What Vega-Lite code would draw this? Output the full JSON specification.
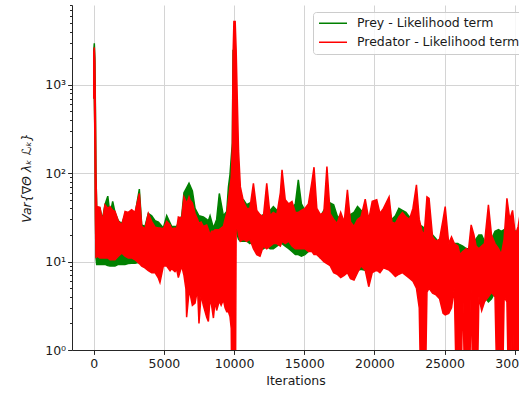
{
  "$schema": "https://vega.github.io/schema/vega-lite/v6.json",
  "width": 447,
  "height": 345,
  "autosize": {"type": "none"},
  "padding": {"left": 72, "top": 5, "right": 0, "bottom": 43},
  "config": {
    "view": {"stroke": null},
    "font": "DejaVu Sans",
    "axis": {
      "labelFont": "DejaVu Sans", "labelFontSize": 12.5, "labelColor": "#1a1a1a",
      "titleFont": "DejaVu Sans", "titleFontSize": 12.5, "titleFontWeight": "normal", "titleColor": "#1a1a1a",
      "domainColor": "#262626", "domainWidth": 1, "tickColor": "#262626", "tickWidth": 1, "tickSize": 4.4,
      "gridColor": "#d4d4d4", "gridWidth": 1, "labelFlush": false, "labelOverlap": false
    }
  },
  "datasets": {
    "prey": [
      {"it":0,"lo":700,"hi":2400},{"it":40,"lo":800,"hi":2950},{"it":80,"lo":300,"hi":2000},{"it":120,"lo":40,"hi":500},{"it":160,"lo":11,"hi":96},
      {"it":210,"lo":9.3,"hi":40},{"it":445,"lo":9.3,"hi":40},{"it":620,"lo":9.3,"hi":30},{"it":800,"lo":9.3,"hi":44},{"it":1000,"lo":9.0,"hi":55},
      {"it":1160,"lo":8.9,"hi":34},{"it":1350,"lo":8.9,"hi":48},{"it":1515,"lo":8.9,"hi":36},{"it":1750,"lo":9.3,"hi":29},{"it":2000,"lo":9.3,"hi":27},
      {"it":2230,"lo":9.3,"hi":34},{"it":2460,"lo":9.5,"hi":34},{"it":2700,"lo":9.6,"hi":36},{"it":2940,"lo":9.6,"hi":34},{"it":3250,"lo":9.8,"hi":66},
      {"it":3420,"lo":9.8,"hi":26},{"it":3650,"lo":9.8,"hi":25},{"it":3890,"lo":9.8,"hi":35},{"it":4130,"lo":9.6,"hi":33},{"it":4370,"lo":9.6,"hi":29},
      {"it":4610,"lo":9.5,"hi":28},{"it":4960,"lo":9.5,"hi":24},{"it":5200,"lo":9.3,"hi":33},{"it":5550,"lo":9.3,"hi":25},{"it":5910,"lo":9.3,"hi":25},
      {"it":6270,"lo":9.3,"hi":33},{"it":6430,"lo":9.3,"hi":60},{"it":6570,"lo":9.5,"hi":66},{"it":6790,"lo":9.8,"hi":77},{"it":7030,"lo":10,"hi":63},
      {"it":7220,"lo":10.2,"hi":40},{"it":7500,"lo":10.5,"hi":33},{"it":7810,"lo":10.6,"hi":32},{"it":8050,"lo":10.6,"hi":30},{"it":8170,"lo":10.6,"hi":29},
      {"it":8290,"lo":10.6,"hi":33},{"it":8530,"lo":10.5,"hi":24},{"it":8760,"lo":10.5,"hi":30},{"it":8950,"lo":10.5,"hi":59},{"it":9240,"lo":10,"hi":33},
      {"it":9480,"lo":9.5,"hi":37},{"it":9600,"lo":9,"hi":70},{"it":9710,"lo":9,"hi":96},{"it":9800,"lo":9,"hi":150},{"it":9880,"lo":12,"hi":220},
      {"it":9930,"lo":15,"hi":2500},{"it":9990,"lo":20,"hi":400},
      {"it":10080,"lo":25,"hi":200},{"it":10150,"lo":22,"hi":150},{"it":10230,"lo":20,"hi":100},{"it":10320,"lo":18,"hi":60},{"it":10450,"lo":17,"hi":50},
      {"it":10670,"lo":17,"hi":50},{"it":10900,"lo":17,"hi":44},{"it":11130,"lo":16,"hi":46},{"it":11380,"lo":17,"hi":40},{"it":11620,"lo":16,"hi":37},
      {"it":11850,"lo":15,"hi":32},{"it":12090,"lo":14,"hi":34},{"it":12330,"lo":15,"hi":36},{"it":12570,"lo":14,"hi":38},{"it":12800,"lo":14,"hi":42},
      {"it":13050,"lo":15,"hi":38},{"it":13300,"lo":16,"hi":40},{"it":13420,"lo":16,"hi":40},{"it":13650,"lo":15,"hi":32},{"it":13900,"lo":14,"hi":30},
      {"it":14130,"lo":13,"hi":40},{"it":14370,"lo":12,"hi":45},{"it":14580,"lo":12,"hi":84},{"it":14800,"lo":11.5,"hi":45},{"it":15050,"lo":12,"hi":38},
      {"it":15300,"lo":13,"hi":42},{"it":15550,"lo":14,"hi":38},{"it":15700,"lo":13,"hi":36},{"it":15900,"lo":13,"hi":30},{"it":16150,"lo":11,"hi":32},
      {"it":16400,"lo":10.5,"hi":38},{"it":16620,"lo":10.5,"hi":42},{"it":16850,"lo":10,"hi":46},{"it":17100,"lo":9,"hi":44},{"it":17350,"lo":8,"hi":33},
      {"it":17600,"lo":7.5,"hi":30},{"it":17850,"lo":7.5,"hi":28},{"it":18080,"lo":8,"hi":30},{"it":18300,"lo":7.5,"hi":34},{"it":18550,"lo":7.2,"hi":36},
      {"it":18800,"lo":8,"hi":42},{"it":19050,"lo":8.2,"hi":38},{"it":19350,"lo":8,"hi":36},{"it":19600,"lo":7.8,"hi":30},{"it":19850,"lo":8.5,"hi":32},
      {"it":20170,"lo":8.5,"hi":34},{"it":20400,"lo":8.5,"hi":30},{"it":20650,"lo":8.8,"hi":36},{"it":21050,"lo":8.5,"hi":38},{"it":21250,"lo":8,"hi":30},
      {"it":21500,"lo":7.5,"hi":33},{"it":21750,"lo":8,"hi":40},{"it":22000,"lo":8.5,"hi":38},{"it":22250,"lo":7.5,"hi":36},{"it":22500,"lo":7.2,"hi":32},
      {"it":22750,"lo":7,"hi":30},{"it":23000,"lo":6.5,"hi":28},{"it":23200,"lo":6,"hi":26},{"it":23400,"lo":5.8,"hi":25},{"it":23550,"lo":5.5,"hi":24},
      {"it":23750,"lo":5.4,"hi":22},{"it":23900,"lo":5.6,"hi":22},{"it":24150,"lo":5.4,"hi":20},{"it":24400,"lo":5,"hi":18},{"it":24650,"lo":4.2,"hi":15},
      {"it":24900,"lo":3.8,"hi":14},{"it":25050,"lo":3.8,"hi":14},{"it":25300,"lo":4.2,"hi":15},{"it":25500,"lo":5,"hi":16},{"it":25700,"lo":5.8,"hi":16},
      {"it":25950,"lo":6.2,"hi":16},{"it":26100,"lo":6.2,"hi":15.5},{"it":26300,"lo":6.4,"hi":15},{"it":26550,"lo":6.5,"hi":14},{"it":26700,"lo":6.2,"hi":14},
      {"it":26900,"lo":6,"hi":15},{"it":27100,"lo":5.5,"hi":17},{"it":27250,"lo":5,"hi":18},{"it":27450,"lo":4.8,"hi":20},{"it":27650,"lo":4.5,"hi":20},
      {"it":27850,"lo":4.0,"hi":17},{"it":28130,"lo":3.5,"hi":16},{"it":28350,"lo":3.8,"hi":18},{"it":28600,"lo":4.5,"hi":22},{"it":28850,"lo":5,"hi":23},
      {"it":29050,"lo":5.5,"hi":22},{"it":29250,"lo":5.8,"hi":23},{"it":29450,"lo":6,"hi":24},{"it":29650,"lo":6.2,"hi":25},{"it":29850,"lo":6,"hi":24},
      {"it":30050,"lo":6,"hi":22},{"it":30250,"lo":6,"hi":20},{"it":30450,"lo":6,"hi":20}
    ],
    "pred": [
      {"it":0,"lo":700,"hi":2300},{"it":40,"lo":800,"hi":2650},{"it":80,"lo":250,"hi":1800},{"it":120,"lo":30,"hi":400},{"it":160,"lo":11,"hi":90},
      {"it":210,"lo":11.6,"hi":42},{"it":445,"lo":11,"hi":41},{"it":620,"lo":11,"hi":28.6},{"it":800,"lo":11,"hi":44},{"it":1000,"lo":11,"hi":40},
      {"it":1160,"lo":10.5,"hi":42},{"it":1350,"lo":10.5,"hi":38},{"it":1515,"lo":10.5,"hi":37},{"it":1750,"lo":11.5,"hi":28.6},{"it":2000,"lo":12.5,"hi":26},
      {"it":2230,"lo":11.5,"hi":37},{"it":2460,"lo":11,"hi":36},{"it":2700,"lo":11,"hi":38.7},{"it":2940,"lo":10.5,"hi":36},{"it":3250,"lo":9.5,"hi":59},
      {"it":3420,"lo":8.9,"hi":25},{"it":3650,"lo":8.5,"hi":23.5},{"it":3890,"lo":7.9,"hi":35},{"it":4130,"lo":7.5,"hi":28.6},{"it":4370,"lo":7.5,"hi":24.5},
      {"it":4610,"lo":6.5,"hi":24},{"it":4720,"lo":5.8,"hi":24},{"it":4960,"lo":8.9,"hi":23.5},{"it":5200,"lo":8.9,"hi":28.6},{"it":5440,"lo":7.9,"hi":26},
      {"it":5550,"lo":8.3,"hi":23.5},{"it":5790,"lo":7.7,"hi":24},{"it":5910,"lo":8.2,"hi":23.5},{"it":6030,"lo":6.6,"hi":32},{"it":6270,"lo":8.9,"hi":31},
      {"it":6430,"lo":7,"hi":54},{"it":6570,"lo":4.9,"hi":48},{"it":6620,"lo":2.35,"hi":45},{"it":6790,"lo":4.5,"hi":54},{"it":6860,"lo":4.4,"hi":50},
      {"it":7030,"lo":3.2,"hi":46},{"it":7220,"lo":3.4,"hi":35},{"it":7400,"lo":4.9,"hi":30},{"it":7500,"lo":2.0,"hi":27},{"it":7650,"lo":4.2,"hi":28},
      {"it":7810,"lo":3.2,"hi":25},{"it":8050,"lo":2.35,"hi":26},{"it":8170,"lo":2.1,"hi":23},{"it":8290,"lo":3.8,"hi":20},{"it":8400,"lo":3.2,"hi":22},
      {"it":8530,"lo":2.3,"hi":22},{"it":8650,"lo":3.6,"hi":23},{"it":8760,"lo":2.8,"hi":23},{"it":8950,"lo":3.6,"hi":23},{"it":9080,"lo":3.2,"hi":24},
      {"it":9240,"lo":3.7,"hi":25},{"it":9360,"lo":3.0,"hi":30},{"it":9480,"lo":2.7,"hi":35},{"it":9600,"lo":2.7,"hi":50},{"it":9710,"lo":2.4,"hi":70},
      {"it":9800,"lo":1.75,"hi":90},{"it":9880,"lo":0.05,"hi":200},{"it":9930,"lo":0.05,"hi":2200},{"it":9990,"lo":0.05,"hi":5200},
      {"it":10080,"lo":0.05,"hi":5200},{"it":10150,"lo":25,"hi":2500},{"it":10230,"lo":25,"hi":700},{"it":10320,"lo":20,"hi":180},{"it":10450,"lo":17,"hi":70},
      {"it":10670,"lo":18,"hi":48},{"it":10900,"lo":17,"hi":40},{"it":11130,"lo":18,"hi":40},{"it":11380,"lo":14,"hi":77},{"it":11620,"lo":12,"hi":38},
      {"it":11850,"lo":11.5,"hi":34},{"it":12090,"lo":15,"hi":32},{"it":12330,"lo":14,"hi":77},{"it":12570,"lo":15,"hi":33},{"it":12800,"lo":16,"hi":36},
      {"it":13050,"lo":16,"hi":34},{"it":13300,"lo":15,"hi":60},{"it":13420,"lo":17,"hi":109},{"it":13650,"lo":16,"hi":50},{"it":13900,"lo":17,"hi":45},
      {"it":14130,"lo":15,"hi":48},{"it":14370,"lo":14,"hi":36},{"it":14580,"lo":14,"hi":36},{"it":14800,"lo":14,"hi":38},{"it":15050,"lo":14,"hi":40},
      {"it":15300,"lo":13,"hi":45},{"it":15550,"lo":13,"hi":80},{"it":15700,"lo":12,"hi":117},{"it":15900,"lo":12,"hi":40},{"it":16150,"lo":11,"hi":34},
      {"it":16400,"lo":10,"hi":36},{"it":16620,"lo":9.5,"hi":119},{"it":16850,"lo":9,"hi":35},{"it":17100,"lo":7.5,"hi":30},{"it":17350,"lo":7.2,"hi":27},
      {"it":17600,"lo":6.6,"hi":36},{"it":17850,"lo":7,"hi":28},{"it":18080,"lo":7.5,"hi":65},{"it":18300,"lo":6.4,"hi":28},{"it":18550,"lo":6.2,"hi":25},
      {"it":18800,"lo":7.5,"hi":30},{"it":19050,"lo":9,"hi":32},{"it":19350,"lo":8,"hi":51},{"it":19600,"lo":5.2,"hi":30},{"it":19850,"lo":7.5,"hi":48},
      {"it":20170,"lo":8,"hi":50},{"it":20400,"lo":7.5,"hi":35},{"it":20650,"lo":8.5,"hi":40},{"it":21050,"lo":8,"hi":54},{"it":21250,"lo":7.5,"hi":28},
      {"it":21500,"lo":6.8,"hi":27},{"it":21750,"lo":7.2,"hi":32},{"it":22000,"lo":7.5,"hi":36},{"it":22250,"lo":7,"hi":32},{"it":22500,"lo":6.5,"hi":30},
      {"it":22750,"lo":6,"hi":40},{"it":23000,"lo":5,"hi":74},{"it":23200,"lo":3,"hi":30},{"it":23400,"lo":0.05,"hi":22},{"it":23550,"lo":0.05,"hi":20},
      {"it":23750,"lo":4.5,"hi":54},{"it":23900,"lo":5,"hi":52},{"it":24150,"lo":4.4,"hi":19},{"it":24400,"lo":4.2,"hi":17},{"it":24650,"lo":3.8,"hi":18},
      {"it":24900,"lo":2.6,"hi":30},{"it":25050,"lo":2.5,"hi":42},{"it":25300,"lo":2.6,"hi":16},{"it":25500,"lo":3,"hi":19},{"it":25700,"lo":5,"hi":16},
      {"it":25950,"lo":0.05,"hi":15},{"it":26100,"lo":0.05,"hi":12},{"it":26300,"lo":5,"hi":13},{"it":26550,"lo":0.05,"hi":14},{"it":26700,"lo":0.05,"hi":13},
      {"it":26900,"lo":5,"hi":26},{"it":27100,"lo":0.05,"hi":20},{"it":27250,"lo":0.05,"hi":15},{"it":27450,"lo":4,"hi":14},{"it":27650,"lo":2.8,"hi":15},
      {"it":27850,"lo":3.5,"hi":16},{"it":28130,"lo":4,"hi":44},{"it":28350,"lo":4.5,"hi":20},{"it":28600,"lo":4,"hi":16},{"it":28850,"lo":0.05,"hi":14},
      {"it":29050,"lo":0.05,"hi":12},{"it":29250,"lo":4,"hi":18},{"it":29450,"lo":3.5,"hi":52},{"it":29650,"lo":0.05,"hi":30},{"it":29850,"lo":3,"hi":38},
      {"it":30050,"lo":0.05,"hi":20},{"it":30250,"lo":0.05,"hi":25},{"it":30450,"lo":3,"hi":40}
    ]
  },
  "encoding": {
    "x": {
      "field": "it", "type": "quantitative",
      "scale": {"domain": [-1550, 30310], "nice": false, "zero": false},
      "axis": {"title": "Iterations", "values": [0, 5000, 10000, 15000, 20000, 25000, 30000], "format": "d", "grid": true, "labelPadding": 3, "titlePadding": 5}
    },
    "y": {
      "field": "lo", "type": "quantitative",
      "scale": {"type": "log", "domain": [1, 8000], "nice": false},
      "axis": {
        "title": "Var{∇Θ λₖ ℒₖ}", "titleFontStyle": "italic", "titlePadding": 11, "labelPadding": 2,
        "values": [1,2,3,4,5,6,7,8,9,10,20,30,40,50,60,70,80,90,100,200,300,400,500,600,700,800,900,1000,2000,3000,4000,5000,6000,7000,8000],
        "labelExpr": "datum.value == 1 ? '10⁰' : datum.value == 10 ? '10¹' : datum.value == 100 ? '10²' : datum.value == 1000 ? '10³' : ''",
        "grid": true,
        "gridOpacity": {"condition": {"test": "indexof([1,10,100,1000], datum.value) >= 0", "value": 1}, "value": 0},
        "tickSize": {"condition": {"test": "indexof([1,10,100,1000], datum.value) >= 0", "value": 4.4}, "value": 2.5}
      }
    }
  },
  "layer": [
    {
      "data": {"name": "prey"},
      "mark": {"type": "area", "fill": "#008000", "strokeWidth": 1.5, "clip": true, "opacity": 1},
      "encoding": {
        "y2": {"field": "hi"},
        "stroke": {
          "datum": "Prey - Likelihood term", "type": "nominal",
          "scale": {"domain": ["Prey - Likelihood term", "Predator - Likelihood term"], "range": ["#008000", "#ff0000"]},
          "legend": {"orient": "none", "legendX": 241, "legendY": 7, "title": null, "symbolType": "stroke", "symbolSize": 784, "symbolStrokeWidth": 1.5, "labelFontSize": 12.5, "labelFont": "DejaVu Sans", "labelColor": "#1a1a1a", "labelOffset": 9, "rowPadding": 6, "padding": 5, "strokeColor": "#cccccc", "fillColor": "rgba(255,255,255,0.8)", "cornerRadius": 3, "clipHeight": 12.5, "labelLimit": 400}
        }
      }
    },
    {
      "data": {"name": "pred"},
      "mark": {"type": "area", "fill": "#ff0000", "strokeWidth": 1.5, "clip": true, "opacity": 1},
      "encoding": {
        "y2": {"field": "hi"},
        "stroke": {"datum": "Predator - Likelihood term", "type": "nominal"}
      }
    },
    {
      "data": {"values": [{}]},
      "mark": {"type": "rule", "color": "black", "strokeDash": [1.5, 2.5], "strokeWidth": 1.6},
      "encoding": {"x": {"datum": 10000, "type": "quantitative"}, "y": null}
    },
    {
      "data": {"values": [{}]},
      "mark": {"type": "rule", "color": "#262626", "strokeWidth": 1},
      "encoding": {"y": {"datum": 8000, "type": "quantitative"}, "x": null}
    }
  ]
}
